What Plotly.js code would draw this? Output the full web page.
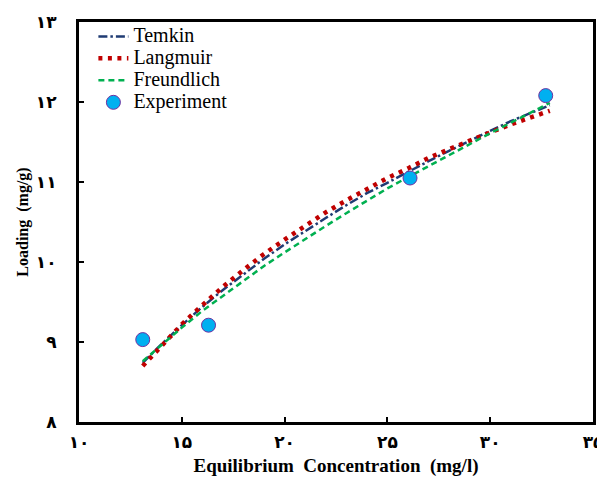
<!DOCTYPE html>
<html>
<head>
<meta charset="utf-8">
<script src="https://cdn.plot.ly/plotly-3.0.1.min.js"></script>
<style>html,body{margin:0;padding:0;background:#fff}#chart{width:597px;height:477px}</style>
</head>
<body>
<div id="chart"></div>
<script>
// Equilibrium concentration (mg/l) for model curves
const modelC = [13.1,14,15,16,17,18,19,20,21,22,23,24,25,26,27,28,29,30,31,32,32.9];
const temkinQ = [8.74,8.97,9.21,9.44,9.65,9.85,10.04,10.22,10.39,10.55,10.71,10.86,10.99,11.13,11.26,11.39,11.52,11.64,11.76,11.87,11.96];
const langmuirQ = [8.70,8.94,9.22,9.46,9.69,9.90,10.10,10.28,10.45,10.62,10.77,10.91,11.05,11.17,11.30,11.41,11.52,11.62,11.72,11.81,11.89];
const freundlichQ = [8.76,8.96,9.18,9.39,9.58,9.77,9.95,10.12,10.29,10.45,10.61,10.77,10.92,11.06,11.20,11.34,11.48,11.61,11.74,11.87,11.99];
// Experimental points
const expC = [13.1,16.3,26.1,32.7];
const expQ = [9.03,9.21,11.05,12.08];
// Tick values and Persian-digit labels
const xTickVals = [10,15,20,25,30,35];
const xTickText = ['۱۰','۱۵','۲۰','۲۵','۳۰','۳۵'];
const yTickVals = [8,9,10,11,12,13];
const yTickText = ['۸','۹','۱۰','۱۱','۱۲','۱۳'];
const seriesNames = ['Temkin','Langmuir','Freundlich','Experiment'];

const serif = '"Liberation Serif","Times New Roman",serif';
const tickFont = {family:'"DejaVu Sans",sans-serif', size:17, color:'#000', weight:'bold'};
const big = s => '<span style="font-size:20px">' + s + '</span>';

const traces = [
  {x:modelC, y:temkinQ, name:big(seriesNames[0]), mode:'lines', type:'scatter',
   line:{color:'#1F3B73', width:2.5, dash:'9px,3px,2.5px,3px'}},
  {x:modelC, y:langmuirQ, name:big(seriesNames[1]), mode:'lines', type:'scatter',
   line:{color:'#C00000', width:4.5, dash:'4px,5.5px'}},
  {x:modelC, y:freundlichQ, name:big(seriesNames[2]), mode:'lines', type:'scatter',
   line:{color:'#00B050', width:2.5, dash:'6px,4px'}},
  {x:expC, y:expQ, name:big(seriesNames[3]), mode:'markers', type:'scatter',
   marker:{color:'#00B0F0', size:14, line:{color:'#7030A0', width:1}}}
];

const layout = {
  width:597, height:477,
  margin:{l:79, r:4, t:22, b:55},
  paper_bgcolor:'#fff', plot_bgcolor:'#fff',
  showlegend:true,
  legend:{x:0.028, y:1.004, xanchor:'left', yanchor:'top', bgcolor:'rgba(0,0,0,0)',
          font:{family:serif, size:14.6, color:'#000'}, tracegroupgap:0},
  xaxis:{range:[10,35], tickvals:xTickVals, ticktext:xTickText, ticks:'inside', ticklen:5, tickwidth:2,
         tickcolor:'#000', showline:true, linewidth:3, linecolor:'#000', mirror:true, showgrid:false, zeroline:false,
         tickfont:tickFont, ticklabelstandoff:3, ticklabeloverflow:'allow',
         title:{text:'Equilibrium\u00a0\u00a0Concentration\u00a0\u00a0(mg/l)', font:{family:serif, size:19, color:'#000', weight:'bold'}, standoff:9}},
  yaxis:{range:[8,13], tickvals:yTickVals, ticktext:yTickText, ticks:'inside', ticklen:5, tickwidth:2,
         tickcolor:'#000', showline:true, linewidth:3, linecolor:'#000', mirror:true, showgrid:false, zeroline:false,
         tickfont:tickFont, ticklabelstandoff:16, ticklabeloverflow:'allow',
         title:{text:'Loading\u00a0\u00a0(mg/g)', font:{family:serif, size:16, color:'#000', weight:'bold'}, standoff:4}}
};

Plotly.newPlot('chart', traces, layout, {displayModeBar:false, staticPlot:true});
</script>
</body>
</html>
